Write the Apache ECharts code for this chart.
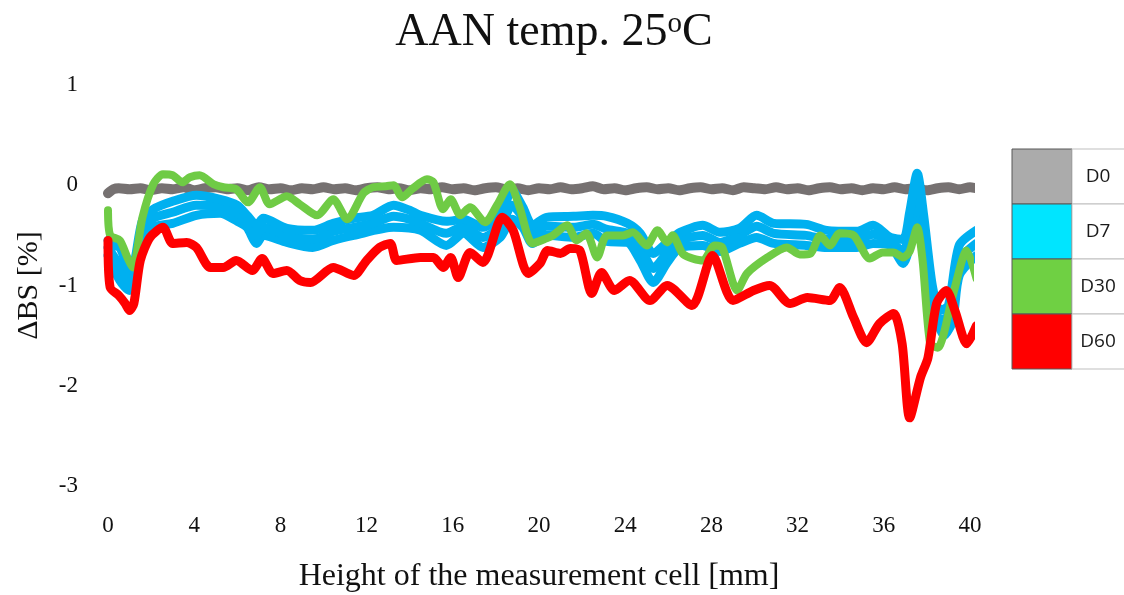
<!DOCTYPE html>
<html>
<head>
<meta charset="utf-8">
<script src="https://cdn.jsdelivr.net/npm/echarts@6/dist/echarts.min.js"></script>
<style>
html, body { margin: 0; padding: 0; background: #fff; }
#chart { width: 1124px; height: 595px; }
</style>
</head>
<body>
<div id="chart"></div>
<script>
// x = height in mm, y = delta BS in %
var d0 = [[0,-0.08],[0.25,-0.04],[0.5,-0.03],[1,-0.04],[1.5,-0.03],[2,-0.05],[2.5,-0.03],[3,-0.04],[3.5,-0.02],[4,-0.05],
	[4.5,-0.03],[5,-0.02],[5.5,-0.04],[6,-0.03],[6.5,-0.05],[7,-0.02],[7.5,-0.04],[8,-0.03],[8.5,-0.05],[9,-0.03],
	[9.5,-0.04],[10,-0.02],[10.5,-0.04],[11,-0.03],[11.5,-0.05],[12,-0.03],[12.5,-0.02],[13,-0.04],[13.5,-0.03],[14,-0.05],
	[14.5,-0.03],[15,-0.04],[15.5,-0.02],[16,-0.04],[16.5,-0.03],[17,-0.05],[17.5,-0.03],[18,-0.02],[18.5,-0.04],[19,-0.03],
	[19.5,-0.05],[20,-0.03],[20.5,-0.04],[21,-0.02],[21.5,-0.04],[22,-0.03],[22.5,-0.01],[23,-0.04],[23.5,-0.03],[24,-0.05],
	[24.5,-0.03],[25,-0.02],[25.5,-0.04],[26,-0.03],[26.5,-0.05],[27,-0.03],[27.5,-0.02],[28,-0.04],[28.5,-0.03],[29,-0.05],
	[29.5,-0.02],[30,-0.03],[30.5,-0.04],[31,-0.02],[31.5,-0.04],[32,-0.03],[32.5,-0.05],[33,-0.03],[33.5,-0.02],[34,-0.04],
	[34.5,-0.03],[35,-0.05],[35.5,-0.03],[36,-0.04],[36.5,-0.02],[37,-0.04],[37.5,-0.03],[38,-0.05],[38.5,-0.03],[39,-0.02],
	[39.5,-0.04],[40,-0.02],[40.3,-0.03]];

var d7top = [[0,-0.55],[0.3,-0.6],[0.55,-0.62],[0.8,-0.75],[1.0,-0.85],[1.2,-0.8],[1.6,-0.35],[2.1,-0.24],[3.0,-0.16],[4.1,-0.1],
	[5.2,-0.14],[6.0,-0.2],[6.45,-0.3],[6.9,-0.4],[7.2,-0.33],[8.3,-0.43],[9.5,-0.45],[10.45,-0.38],[11.4,-0.33],[12.3,-0.3],
	[13.25,-0.2],[14.0,-0.25],[14.5,-0.3],[15.7,-0.36],[16.5,-0.34],[17.4,-0.42],[18.2,-0.3],[18.75,-0.05],[19.25,-0.22],[19.7,-0.4],
	[20.35,-0.32],[21.6,-0.31],[22.5,-0.3],[23.15,-0.31],[24.1,-0.38],[24.7,-0.48],[25.3,-0.68],[25.95,-0.57],[26.55,-0.47],[27.6,-0.4],
	[28.4,-0.47],[29.3,-0.43],[30.1,-0.3],[30.9,-0.38],[32.4,-0.39],[33.35,-0.45],[34.75,-0.46],[35.5,-0.4],[36.3,-0.52],[36.9,-0.54],
	[37.2,-0.27],[37.55,0.12],[37.85,-0.3],[38.25,-1.0],[38.6,-1.25],[39.0,-1.2],[39.5,-0.6],[40.3,-0.45]];

var d7mid = [[0,-0.62],[0.3,-0.72],[0.55,-0.8],[0.8,-0.9],[1.0,-0.97],[1.2,-0.9],[1.6,-0.47],[2.1,-0.33],[3.0,-0.27],[4.1,-0.2],
	[5.2,-0.21],[6.0,-0.28],[6.45,-0.36],[6.9,-0.5],[7.2,-0.42],[8.3,-0.5],[9.5,-0.54],[10.45,-0.46],[11.4,-0.42],[12.3,-0.38],
	[13.25,-0.31],[14.0,-0.34],[14.5,-0.38],[15.7,-0.48],[16.5,-0.41],[17.4,-0.52],[18.2,-0.41],[18.75,-0.2],[19.25,-0.32],[19.7,-0.49],
	[20.35,-0.41],[21.6,-0.42],[22.5,-0.39],[23.15,-0.44],[24.1,-0.48],[24.7,-0.62],[25.3,-0.83],[25.95,-0.67],[26.55,-0.55],[27.6,-0.5],
	[28.4,-0.57],[29.3,-0.5],[30.1,-0.41],[30.9,-0.48],[32.4,-0.5],[33.35,-0.54],[34.75,-0.54],[35.5,-0.49],[36.3,-0.56],[36.9,-0.66],
	[37.2,-0.45],[37.55,-0.05],[37.85,-0.4],[38.25,-1.08],[38.6,-1.35],[39.0,-1.3],[39.5,-0.75],[40.3,-0.58]];

var d7low = [[0,-0.7],[0.55,-0.95],[1.0,-1.05],[1.2,-1.0],[1.6,-0.6],[2.1,-0.42],[3.0,-0.38],[4.1,-0.3],[5.2,-0.28],[6.0,-0.36],
	[6.45,-0.42],[6.9,-0.58],[7.2,-0.5],[8.3,-0.57],[9.5,-0.62],[10.45,-0.55],[11.4,-0.5],[13.25,-0.42],[14.5,-0.45],[15.7,-0.6],
	[16.5,-0.48],[17.4,-0.62],[18.2,-0.52],[18.75,-0.34],[19.25,-0.42],[19.7,-0.58],[20.35,-0.5],[21.6,-0.52],[22.5,-0.48],[23.15,-0.56],
	[24.1,-0.57],[24.7,-0.75],[25.3,-0.97],[25.95,-0.77],[26.55,-0.62],[27.6,-0.6],[28.4,-0.66],[29.3,-0.58],[30.1,-0.52],[30.9,-0.58],
	[32.4,-0.6],[33.35,-0.62],[34.75,-0.62],[35.5,-0.58],[36.3,-0.6],[36.9,-0.78],[37.2,-0.6],[37.55,-0.2],[37.85,-0.5],[38.25,-1.15],
	[38.8,-1.5],[39.2,-1.35],[39.5,-0.9],[40.3,-0.7]];

var d30 = [[0,-0.25],[0.1,-0.5],[0.55,-0.55],[0.9,-0.72],[1.15,-0.82],[1.6,-0.32],[2.1,0.01],[2.55,0.11],[3.0,0.1],[3.45,0.03],
	[3.8,0.08],[4.25,0.1],[4.9,0.01],[5.35,-0.02],[5.95,-0.04],[6.5,-0.17],[7.05,-0.02],[7.5,-0.19],[8.3,-0.11],[8.9,-0.19],
	[9.7,-0.3],[10.45,-0.14],[11.1,-0.34],[11.85,-0.08],[12.3,-0.02],[12.9,-0.01],[13.25,0.0],[13.65,-0.12],[14.15,-0.03],[14.8,0.06],
	[15.1,0.03],[15.55,-0.24],[15.9,-0.14],[16.35,-0.3],[16.8,-0.22],[17.5,-0.37],[18.05,-0.2],[18.65,0.01],[19.1,-0.22],[19.7,-0.58],
	[20.35,-0.53],[20.65,-0.5],[21.3,-0.4],[21.75,-0.55],[22.2,-0.48],[22.7,-0.72],[23.15,-0.5],[23.9,-0.5],[24.35,-0.47],[25.0,-0.6],
	[25.5,-0.45],[25.95,-0.57],[26.2,-0.5],[26.7,-0.69],[27.6,-0.75],[28.15,-0.6],[28.5,-0.62],[29.2,-1.05],[29.65,-0.88],[30.6,-0.72],
	[31.5,-0.62],[32.1,-0.69],[32.6,-0.68],[33.05,-0.5],[33.5,-0.6],[33.95,-0.48],[34.6,-0.5],[35.35,-0.73],[35.95,-0.67],[36.45,-0.67],
	[36.9,-0.72],[37.2,-0.66],[37.55,-0.42],[37.8,-0.75],[38.15,-1.58],[38.5,-1.62],[39.2,-1.1],[39.85,-0.65],[40.3,-0.93]];

var d60 = [[0,-0.55],[0.1,-1.02],[0.5,-1.1],[0.8,-1.18],[1.0,-1.25],[1.2,-1.18],[1.5,-0.75],[1.95,-0.52],[2.55,-0.42],[3.0,-0.58],
	[3.65,-0.57],[4.1,-0.62],[4.75,-0.82],[5.35,-0.82],[5.95,-0.75],[6.7,-0.85],[7.15,-0.73],[7.65,-0.88],[8.3,-0.85],[8.9,-0.95],
	[9.4,-0.97],[10.45,-0.82],[11.4,-0.9],[12.0,-0.75],[12.6,-0.62],[13.1,-0.58],[13.4,-0.75],[14.5,-0.72],[15.1,-0.72],[15.55,-0.82],
	[15.9,-0.72],[16.25,-0.92],[16.8,-0.67],[17.4,-0.77],[18.3,-0.32],[18.8,-0.45],[19.5,-0.88],[20.05,-0.78],[20.4,-0.65],[21.0,-0.68],
	[21.45,-0.63],[21.9,-0.65],[22.45,-1.08],[22.9,-0.87],[23.5,-1.05],[24.2,-0.95],[25.15,-1.15],[25.95,-1.0],[27.1,-1.2],[28.05,-0.7],
	[29.0,-1.15],[29.95,-1.05],[30.7,-1.0],[31.65,-1.18],[32.45,-1.12],[33.5,-1.15],[33.95,-1.02],[34.6,-1.32],[35.2,-1.57],[35.8,-1.38],
	[36.45,-1.28],[36.85,-1.58],[37.2,-2.32],[37.7,-1.92],[38.05,-1.72],[38.45,-1.18],[38.9,-1.05],[39.3,-1.25],[39.85,-1.58],[40.3,-1.4]];

var legendNames = ['D0', 'D7', 'D30', 'D60'];
var legendFill = ['#ababab', '#00e5ff', '#6fd043', '#ff0000'];

var serif = '"Liberation Serif", "DejaVu Serif", serif';

function lineSeries(name, data, color, width) {
	return {
		name: name,
		type: 'line',
		data: data,
		showSymbol: false,
		smooth: 0.25,
		clip: false,
		lineStyle: {color: color, width: width, cap: 'round', join: 'round'}
	};
}

// table-like legend on the right
var legendCells = [];
legendNames.forEach(function (n, i) {
	var top = 149 + i * 55;
	legendCells.push({
		type: 'rect', shape: {x: 1012, y: top, width: 60, height: 55},
		style: {fill: legendFill[i], stroke: '#595959', lineWidth: 1}
	});
	legendCells.push({
		type: 'rect', shape: {x: 1072, y: top, width: 60, height: 55},
		style: {fill: '#fff', stroke: '#bfbfbf', lineWidth: 1}
	});
	legendCells.push({
		type: 'text', x: 1098, y: top + 28,
		style: {text: n, fill: '#1a1a1a', font: '19px "Open Sans", sans-serif', textAlign: 'center', textVerticalAlign: 'middle'}
	});
});

var myChart = echarts.init(document.getElementById('chart'));

var option = {
	backgroundColor: '#fff',
	animation: false,
	title: {
		text: 'AAN temp. 25{sup|o}C',
		left: 549,
		top: 5,
		textAlign: 'center',
		textStyle: {
			fontFamily: serif, fontSize: 46, fontWeight: 'normal', color: '#111',
			rich: {sup: {fontFamily: serif, fontSize: 29, color: '#111', verticalAlign: 'top', padding: [0, 0, 14, 0]}}
		}
	},
	grid: {left: 108, right: 154, top: 85, bottom: 109, outerBoundsMode: 'none'},
	xAxis: {
		type: 'value', min: 0, max: 40, interval: 4,
		name: 'Height of the measurement cell [mm]',
		nameLocation: 'middle', nameGap: 75,
		nameTextStyle: {fontFamily: serif, fontSize: 32, color: '#111'},
		axisLine: {show: false}, axisTick: {show: false}, splitLine: {show: false},
		axisLabel: {fontFamily: serif, fontSize: 23, color: '#111', margin: 28}
	},
	yAxis: {
		type: 'value', min: -3, max: 1, interval: 1,
		name: 'ΔBS [%]',
		nameLocation: 'middle', nameGap: 64,
		nameTextStyle: {fontFamily: serif, fontSize: 30, color: '#111'},
		axisLine: {show: false}, axisTick: {show: false}, splitLine: {show: false},
		axisLabel: {fontFamily: serif, fontSize: 23, color: '#111', margin: 30}
	},
	graphic: legendCells,
	series: [
		lineSeries('D0', d0, '#767171', 10),
		lineSeries('D7', d7low, '#00b0f0', 9),
		lineSeries('D7', d7mid, '#00b0f0', 9),
		lineSeries('D7', d7top, '#00b0f0', 9),
		lineSeries('D30', d30, '#6fcb45', 8),
		lineSeries('D60', d60, '#ff0000', 9)
	]
};

myChart.setOption(option);
</script>
</body>
</html>
